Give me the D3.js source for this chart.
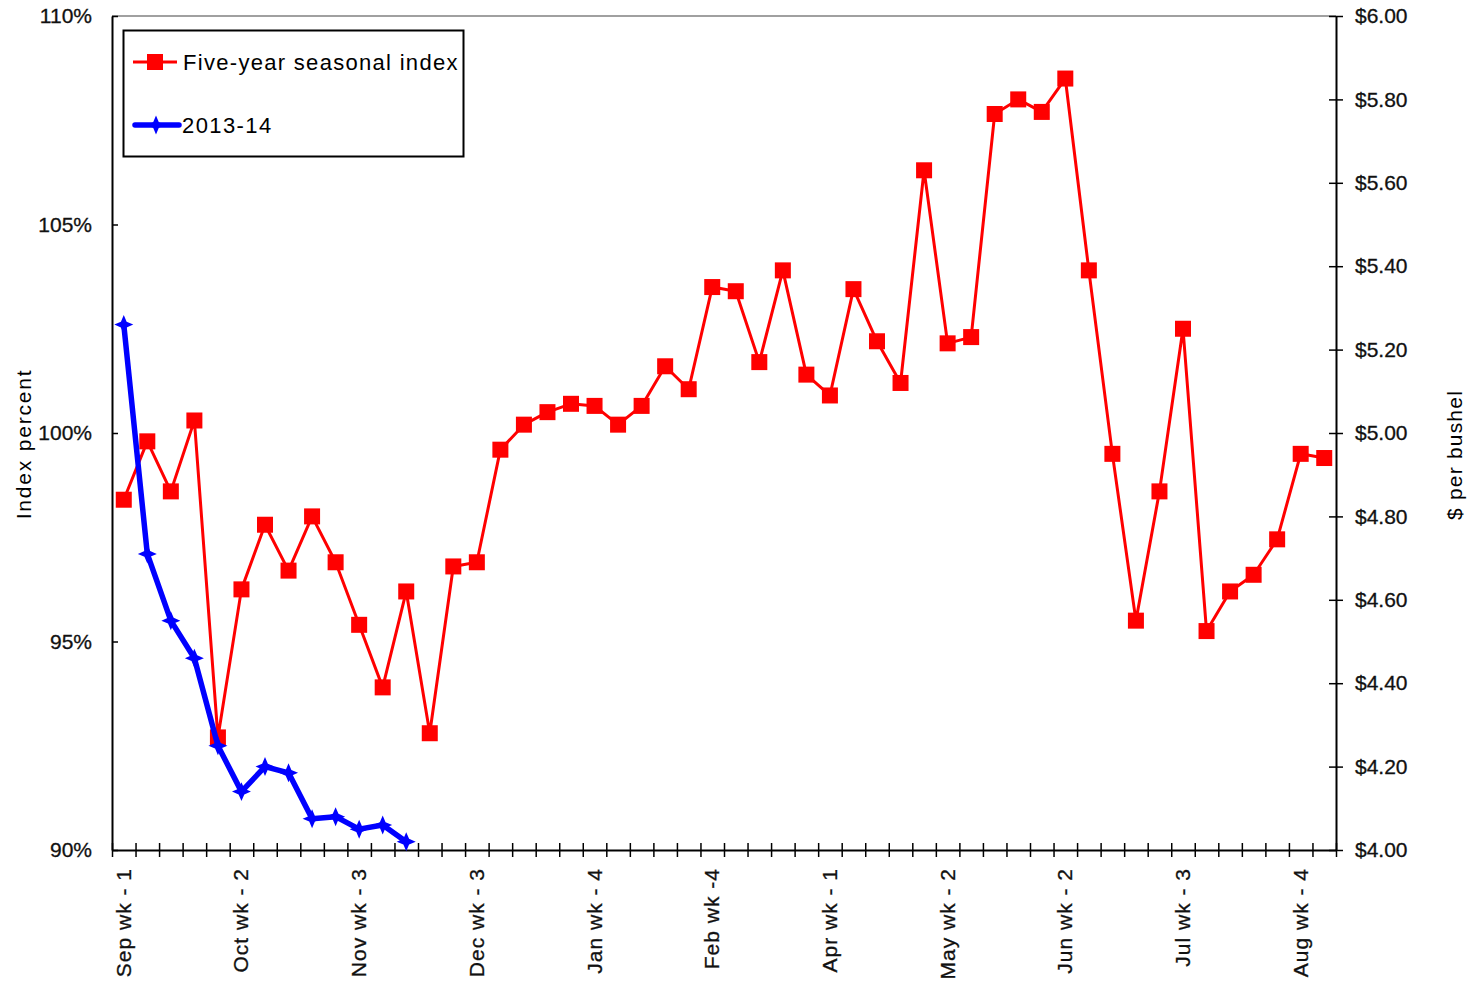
<!DOCTYPE html>
<html>
<head>
<meta charset="utf-8">
<script src="https://cdn.jsdelivr.net/npm/d3@7"></script>
<style>
  html, body { margin: 0; padding: 0; background: #fff; }
  svg { display: block; font-family: "Liberation Sans", Arial, sans-serif; }
</style>
</head>
<body>
<svg id="chart" width="1472" height="981"></svg>
<script>
// Week categories: Sep wk 1 through Aug wk 4 (52 weeks)
const weeks = [
  "Sep wk - 1","Sep wk - 2","Sep wk - 3","Sep wk - 4","Oct wk - 1",
  "Oct wk - 2","Oct wk - 3","Oct wk - 4","Nov wk - 1","Nov wk - 2",
  "Nov wk - 3","Nov wk - 4","Dec wk - 1","Dec wk - 2","Dec wk - 2b",
  "Dec wk - 3","Dec wk - 4","Jan wk - 1","Jan wk - 2","Jan wk - 3",
  "Jan wk - 4","Feb wk - 1","Feb wk - 2","Feb wk - 3","Feb wk - 3b",
  "Feb wk -4","Mar wk - 1","Mar wk - 2","Mar wk - 3","Mar wk - 4",
  "Apr wk - 1","Apr wk - 2","Apr wk - 3","Apr wk - 4","May wk - 1",
  "May wk - 2","May wk - 3","May wk - 4","Jun wk - 0","Jun wk - 1",
  "Jun wk - 2","Jun wk - 3","Jun wk - 4","Jul wk - 1","Jul wk - 2",
  "Jul wk - 3","Jul wk - 4","Aug wk - 1","Aug wk - 2","Aug wk - 3",
  "Aug wk - 4","Aug wk - 5"
];
// Labelled weeks on the x axis
const labeledWeeks = [
  "Sep wk - 1","Oct wk - 2","Nov wk - 3","Dec wk - 3","Jan wk - 4",
  "Feb wk -4","Apr wk - 1","May wk - 2","Jun wk - 2","Jul wk - 3","Aug wk - 4"
];

// Five-year seasonal index (percent)
const seasonalIndex = [
  98.4, 99.8, 98.6, 100.3, 92.7, 96.25, 97.8, 96.7, 98.0, 96.9,
  95.4, 93.9, 96.2, 92.8, 96.8, 96.9, 99.6, 100.2, 100.5, 100.7,
  100.65, 100.2, 100.65, 101.6, 101.05, 103.5, 103.4, 101.7, 103.9, 101.4,
  100.9, 103.45, 102.2, 101.2, 106.3, 102.15, 102.3, 107.65, 108.0, 107.7,
  108.5, 103.9, 99.5, 95.5, 98.6, 102.5, 95.25, 96.2, 96.6, 97.45,
  99.5, 99.4
];
// 2013-14 index (percent), first 13 weeks
const season2013 = [
  102.6, 97.1, 95.5, 94.6, 92.5, 91.4, 92.0, 91.85, 90.75, 90.8,
  90.5, 90.6, 90.2
];

const leftTicks = [90, 95, 100, 105, 110];
const rightTicks = [4.0, 4.2, 4.4, 4.6, 4.8, 5.0, 5.2, 5.4, 5.6, 5.8, 6.0];

const svg = d3.select("#chart");
const plot = { left: 112, right: 1336, top: 16, bottom: 850 };

const x = d3.scaleBand().domain(weeks).range([plot.left, plot.right]);
const yL = d3.scaleLinear().domain([90, 110]).range([plot.bottom, plot.top]);
const yR = d3.scaleLinear().domain([4, 6]).range([plot.bottom, plot.top]);
const cx = d => x(d) + x.bandwidth() / 2;

// Top border
svg.append("line")
  .attr("x1", plot.left).attr("x2", plot.right)
  .attr("y1", plot.top).attr("y2", plot.top)
  .attr("stroke", "#808080").attr("stroke-width", 1.5);

// Left axis
const gL = svg.append("g").attr("transform", `translate(${plot.left},0)`)
  .call(d3.axisLeft(yL).tickValues(leftTicks).tickFormat(d => d + "%")
    .tickSizeInner(7).tickSizeOuter(0).tickPadding(13));
gL.selectAll(".tick line").attr("x2", 6);
// Right axis
const gR = svg.append("g").attr("transform", `translate(${plot.right},0)`)
  .call(d3.axisRight(yR).tickValues(rightTicks).tickFormat(d => "$" + d.toFixed(2))
    .tickSizeInner(7).tickSizeOuter(0).tickPadding(12));
gR.selectAll(".tick line").attr("x2", 7).attr("x1", -7);

// Bottom axis: ticks at week boundaries, labels under labelled weeks
const boundaries = weeks.map(w => x(w)).concat([plot.right]);
const xb = d3.scaleLinear().domain([plot.left, plot.right]).range([plot.left, plot.right]);
const gB = svg.append("g").attr("transform", `translate(0,${plot.bottom})`)
  .call(d3.axisBottom(xb).tickValues(boundaries).tickFormat("")
    .tickSizeInner(7).tickSizeOuter(0));
gB.selectAll(".tick line").attr("y1", -7);

svg.selectAll(".domain").attr("stroke", "#000").attr("stroke-width", 2);
svg.selectAll(".tick line").attr("stroke", "#000").attr("stroke-width", 1.5);
svg.selectAll(".tick text").attr("font-size", 21).attr("fill", "#111")
  .style("font-family", "Liberation Sans, Arial, sans-serif")
  .attr("stroke", "#111").attr("stroke-width", 0.3);

// Rotated category labels
svg.append("g").selectAll("text").data(labeledWeeks).join("text")
  .attr("transform", d => `translate(${cx(d) + 7},${plot.bottom + 18}) rotate(-90)`)
  .attr("text-anchor", "end")
  .attr("font-size", 21).attr("letter-spacing", 1).attr("fill", "#111")
  .attr("stroke", "#111").attr("stroke-width", 0.3)
  .text(d => d);

// Axis titles
svg.append("text")
  .attr("transform", `translate(31,${444}) rotate(-90)`)
  .attr("text-anchor", "middle").attr("font-size", 21).attr("letter-spacing", 1.8)
  .attr("fill", "#000")
  .text("Index percent");
svg.append("text")
  .attr("transform", `translate(1462,${455}) rotate(-90)`)
  .attr("text-anchor", "middle").attr("font-size", 21).attr("letter-spacing", 1.2)
  .attr("fill", "#000")
  .text("$ per bushel");

// Four-point star marker for the 2013-14 series
const star4 = {
  draw(ctx, size) {
    const r = Math.sqrt(size) * 0.75, k = r * 0.3;
    ctx.moveTo(0, -r);
    ctx.lineTo(k, -k); ctx.lineTo(r, 0); ctx.lineTo(k, k);
    ctx.lineTo(0, r); ctx.lineTo(-k, k); ctx.lineTo(-r, 0); ctx.lineTo(-k, -k);
    ctx.closePath();
  }
};

// Seasonal index line with square markers
const lineL = d3.line().x((d, i) => cx(weeks[i])).y(d => yL(d));
svg.append("path").datum(seasonalIndex)
  .attr("d", lineL).attr("fill", "none")
  .attr("stroke", "#ff0000").attr("stroke-width", 3).attr("stroke-linejoin", "round");
svg.append("g").selectAll("rect").data(seasonalIndex).join("rect")
  .attr("x", (d, i) => cx(weeks[i]) - 8).attr("y", d => yL(d) - 8)
  .attr("width", 16).attr("height", 16).attr("fill", "#ff0000");

// 2013-14 line with star markers
svg.append("path").datum(season2013)
  .attr("d", lineL).attr("fill", "none")
  .attr("stroke", "#0000ff").attr("stroke-width", 5.5).attr("stroke-linejoin", "round");
const starSym = d3.symbol().type(star4).size(160);
svg.append("g").selectAll("path").data(season2013).join("path")
  .attr("transform", (d, i) => `translate(${cx(weeks[i])},${yL(d)})`)
  .attr("d", starSym).attr("fill", "#0000ff");

// Legend
const lg = svg.append("g");
lg.append("rect").attr("x", 123.5).attr("y", 30.5).attr("width", 340).attr("height", 126)
  .attr("fill", "#fff").attr("stroke", "#000").attr("stroke-width", 2);
lg.append("line").attr("x1", 133).attr("x2", 177).attr("y1", 62).attr("y2", 62)
  .attr("stroke", "#ff0000").attr("stroke-width", 3);
lg.append("rect").attr("x", 147).attr("y", 54).attr("width", 16).attr("height", 16).attr("fill", "#ff0000");
lg.append("text").attr("x", 183).attr("y", 70).attr("font-size", 22).attr("fill", "#000")
  .attr("letter-spacing", 1.3).text("Five-year seasonal index");
lg.append("line").attr("x1", 135).attr("x2", 179).attr("y1", 125).attr("y2", 125)
  .attr("stroke", "#0000ff").attr("stroke-width", 5.5).attr("stroke-linecap", "round");
lg.append("path").attr("transform", "translate(156,125)").attr("d", starSym).attr("fill", "#0000ff");
lg.append("text").attr("x", 182).attr("y", 133).attr("font-size", 22).attr("fill", "#000")
  .attr("letter-spacing", 1.4).text("2013-14");
</script>
</body>
</html>
